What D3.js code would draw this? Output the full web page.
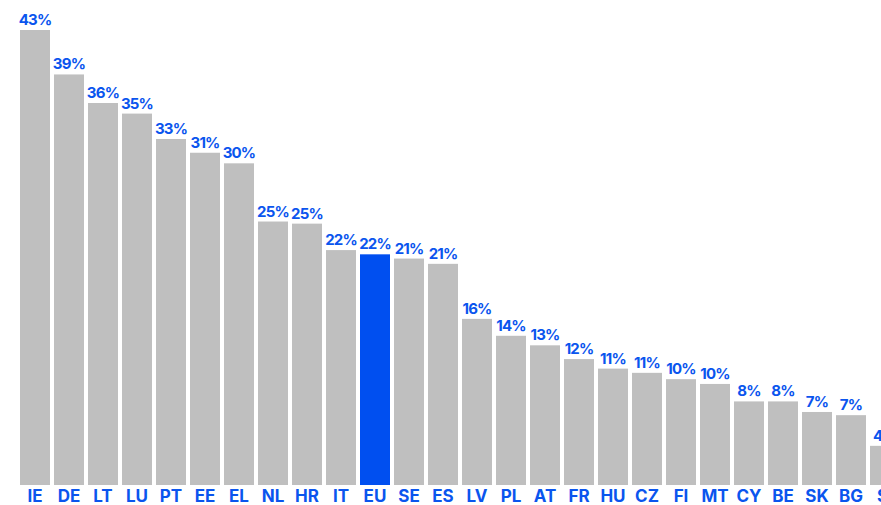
<!DOCTYPE html>
<html>
<head>
<meta charset="utf-8">
<script src="https://cdn.jsdelivr.net/npm/d3@7"></script>
<style>
  body { margin: 0; background: #fff; overflow: hidden; }
  .val, .cat { font-family: Inter, "Noto Sans", sans-serif; font-weight: 700; fill: #0a55ee; }
</style>
</head>
<body>
<svg id="chart"></svg>
<script>
// countries, sorted by share
var countries = ["IE", "DE", "LT", "LU", "PT", "EE", "EL", "NL", "HR", "IT", "EU", "SE", "ES",
  "LV", "PL", "AT", "FR", "HU", "CZ", "FI", "MT", "CY", "BE", "SK", "BG", "SI"];
var shares = [43.0, 38.8, 36.1, 35.1, 32.7, 31.4, 30.4, 24.9, 24.7, 22.2, 21.8, 21.4, 20.9,
  15.7, 14.1, 13.2, 11.9, 11.0, 10.6, 10.0, 9.55, 7.9, 7.9, 6.9, 6.6, 3.7];
var highlight = "EU";

var screen = { width: 881, height: 505 };
var margins = { top: 30, bottom: 20, left: 18 };

var svg = d3.select("#chart").attr("width", screen.width).attr("height", screen.height);

var data = countries.map(function (c, i) {
  return { country: c, value: shares[i] };
});

//scales//
var step = 34;
var xScale = d3.scaleBand()
  .domain(countries)
  .range([margins.left, margins.left + countries.length * step])
  .paddingInner(4 / step)
  .paddingOuter(2 / step);

var yScale = d3.scaleLinear()
  .domain([0, 43])
  .range([screen.height - margins.bottom, margins.top]);

//bars//
svg.append("g").selectAll("rect")
  .data(data)
  .enter()
  .append("rect")
  .attr("x", function (d) { return xScale(d.country); })
  .attr("y", function (d) { return yScale(d.value); })
  .attr("width", xScale.bandwidth())
  .attr("height", function (d) { return yScale(0) - yScale(d.value); })
  .attr("fill", function (d) { return d.country === highlight ? "#004ff0" : "#bfbfbf"; });

//value labels//
svg.append("g").selectAll("text")
  .data(data)
  .enter()
  .append("text")
  .classed("val", true)
  .attr("text-anchor", "middle")
  .attr("font-size", 15)
  .attr("letter-spacing", "-0.8")
  .attr("x", function (d) { return xScale(d.country) + xScale.bandwidth() / 2; })
  .attr("y", function (d) { return yScale(d.value) - 5; })
  .text(function (d) { return Math.round(d.value) + "%"; });

//category axis//
var xAxis = d3.axisBottom(xScale).tickSize(0).tickPadding(0);
var axis = svg.append("g")
  .attr("transform", "translate(0," + yScale(0) + ")")
  .call(xAxis);
axis.select(".domain").remove();
axis.selectAll("text")
  .attr("class", "cat")
  .attr("font-size", 17)
  .attr("dy", null)
  .attr("y", 17);
</script>
</body>
</html>
